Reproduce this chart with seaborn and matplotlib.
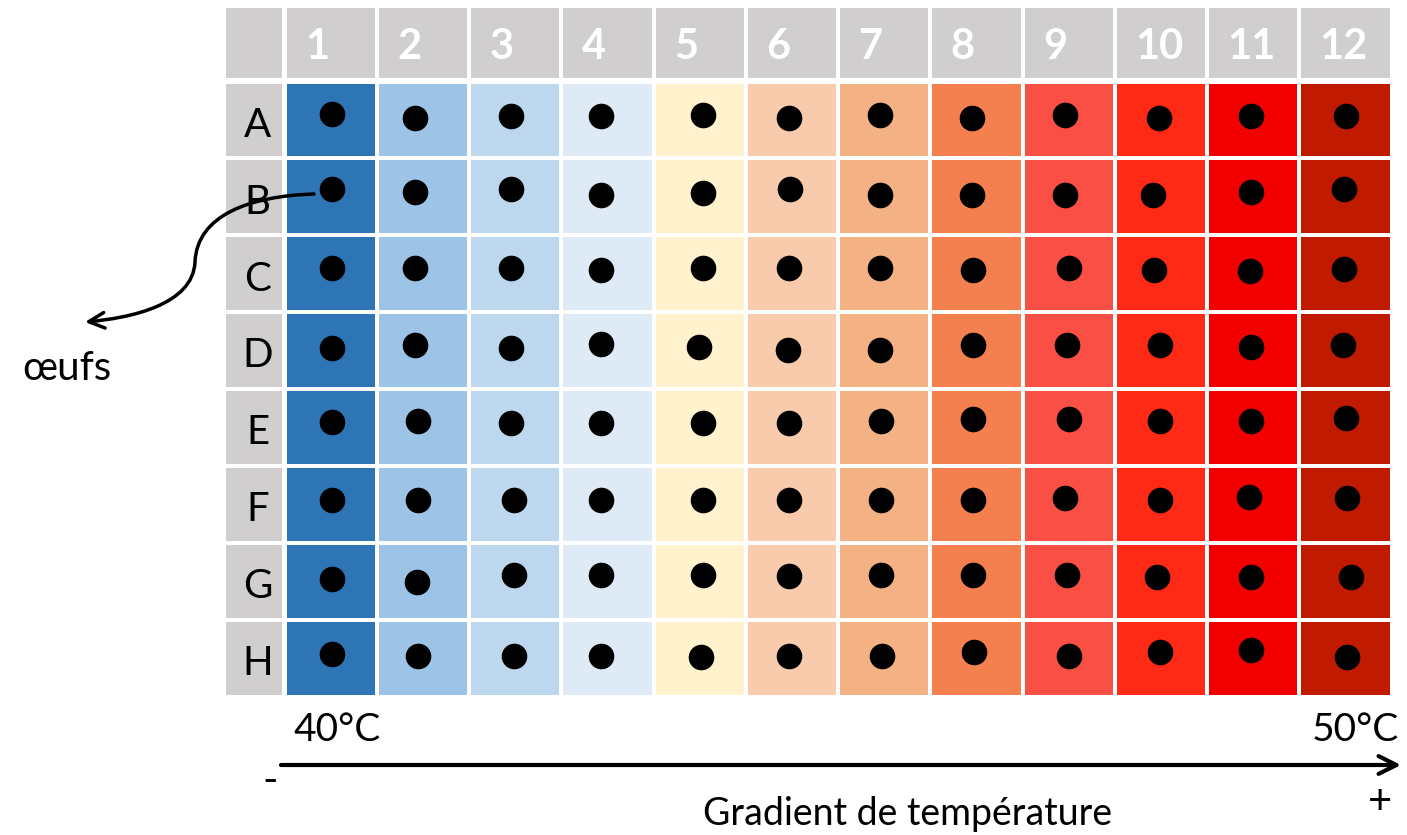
import numpy as np
import matplotlib
matplotlib.use("Agg")
import matplotlib.pyplot as plt
from matplotlib.colors import ListedColormap
from matplotlib.patches import FancyArrowPatch
from matplotlib.path import Path
import seaborn as sns

# plate layout
rows = ["A", "B", "C", "D", "E", "F", "G", "H"]
cols = ["1", "2", "3", "4", "5", "6", "7", "8", "9", "10", "11", "12"]
# one colour per column, cold (40°C) to hot (50°C)
col_colors = ["#2E75B6", "#9DC3E6", "#BDD7EE", "#DEEBF7", "#FFF2CC", "#F8CBAD",
              "#F4B183", "#F4804F", "#F94F45", "#FF2A15", "#F20000", "#C01A00"]
temp_min, temp_max = "40°C", "50°C"

# egg position inside each well, offset from the well centre (% of cell)
egg_dx = [
    [1, -8, -4, -7, 4, -3, -5, -5, -4, -2, -2, 1],
    [2, -9, -4, -7, 4, -2, -5, -5, -4, -8, -2, -1],
    [1, -9, -4, -7, 4, -3, -5, -4, 0, -7, -3, -1],
    [1, -9, -5, -7, -1, -4, -4, -4, -2, -1, -2, -3],
    [1, -5, -4, -7, 4, -3, -3, -4, 0, -1, -2, 1],
    [1, -5, -1, -7, 4, -3, -3, -4, -4, -1, -4, 2],
    [1, -6, -1, -7, 4, -3, -3, -4, -2, -4, -2, 6],
    [1, -5, -1, -7, 2, -3, -2, -3, 0, -1, -2, 2],
]
egg_dy = [
    [-8, -3, -5, -5, -6, -3, -6, -3, -6, -3, -5, -5],
    [-10, -6, -10, -3, -5, -10, -3, -3, -3, -3, -6, -10],
    [-8, -7, -8, -5, -8, -8, -7, -5, -7, -5, -3, -6],
    [-3, -7, -3, -8, -5, -1, -1, -7, -7, -7, -5, -7],
    [-7, -8, -6, -6, -6, -6, -8, -11, -11, -8, -8, -12],
    [-6, -6, -6, -6, -6, -6, -6, -6, -8, -6, -10, -8],
    [-3, 1, -8, -8, -8, -7, -8, -8, -8, -5, -6, -6],
    [-5, -3, -3, -3, -2, -3, -3, -8, -3, -8, -10, -2],
]

sns.set_theme(style="white")
plt.rcParams["font.family"] = ["Lato", "DejaVu Sans"]
plt.rcParams["text.color"] = "black"

W, H = 1407, 835
fig = plt.figure(figsize=(W / 100, H / 100), dpi=100)


def px_axes(x0, y0, x1, y1):
    return fig.add_axes([x0 / W, 1 - y1 / H, (x1 - x0) / W, (y1 - y0) / H])


gray = ListedColormap(["#D0CECE"])
lw = 1.7

# corner + header
ax_c = px_axes(224.5, 5.5, 284.5, 79.5)
sns.heatmap(np.zeros((1, 1)), ax=ax_c, cmap=gray, cbar=False, linewidths=lw,
            linecolor="white", xticklabels=False, yticklabels=False)
ax_h = px_axes(284.5, 5.5, 1391.5, 79.5)
sns.heatmap(np.zeros((1, len(cols))), ax=ax_h, cmap=gray, cbar=False, linewidths=lw,
            linecolor="white", xticklabels=False, yticklabels=False)
for j, c in enumerate(cols):
    ax_h.text(j + 0.22, 0.56, c, ha="left", va="center", color="white",
              fontsize=30, fontweight="bold")

# row labels
ax_r = px_axes(224.5, 81.5, 284.5, 696.5)
sns.heatmap(np.zeros((len(rows), 1)), ax=ax_r, cmap=gray, cbar=False, linewidths=lw,
            linecolor="white", xticklabels=False, yticklabels=False)
for i, r in enumerate(rows):
    ax_r.text(0.55, i + 0.57, r, ha="center", va="center", color="black", fontsize=29)

# wells coloured by temperature column
ax = px_axes(284.5, 81.5, 1391.5, 696.5)
grid = np.tile(np.arange(len(cols)), (len(rows), 1))
sns.heatmap(grid, ax=ax, cmap=ListedColormap(col_colors), cbar=False, linewidths=lw,
            linecolor="white", xticklabels=False, yticklabels=False)
gx, gy = np.meshgrid(np.arange(len(cols)), np.arange(len(rows)))
ex = gx + 0.5 + np.array(egg_dx) / 100
ey = gy + 0.5 + np.array(egg_dy) / 100
ax.scatter(ex.ravel(), ey.ravel(), s=340, color="black", linewidths=0, zorder=5)

# annotations in pixel space
ov = fig.add_axes([0, 0, 1, 1], facecolor="none")
ov.set_xlim(0, W)
ov.set_ylim(H, 0)
ov.axis("off")

curve = Path([(314, 194), (250, 196), (197, 215), (195, 262),
              (193, 305), (130, 318), (85, 322)],
             [Path.MOVETO, Path.CURVE4, Path.CURVE4, Path.CURVE4,
              Path.CURVE4, Path.CURVE4, Path.CURVE4])
ov.add_patch(FancyArrowPatch(path=curve, arrowstyle="->", mutation_scale=28,
                             lw=2.5, color="black", transform=ov.transData))
ov.text(67, 368, "œufs", ha="center", va="center", fontsize=29, color="black")

ov.annotate("", xy=(1401, 765), xytext=(281, 765),
            arrowprops=dict(arrowstyle="->", lw=3, mutation_scale=32, color="black",
                            shrinkA=0, shrinkB=0))
ov.text(337, 730, temp_min, ha="center", va="center", fontsize=28, color="black")
ov.text(1355, 730, temp_max, ha="center", va="center", fontsize=28, color="black")
ov.text(270, 781, "-", ha="center", va="center", fontsize=30, color="black")
ov.text(1380, 802, "+", ha="center", va="center", fontsize=30, color="black")
ov.text(908, 814, "Gradient de température", ha="center", va="center", fontsize=27,
        color="black")

fig.savefig("out.png", dpi=100)
